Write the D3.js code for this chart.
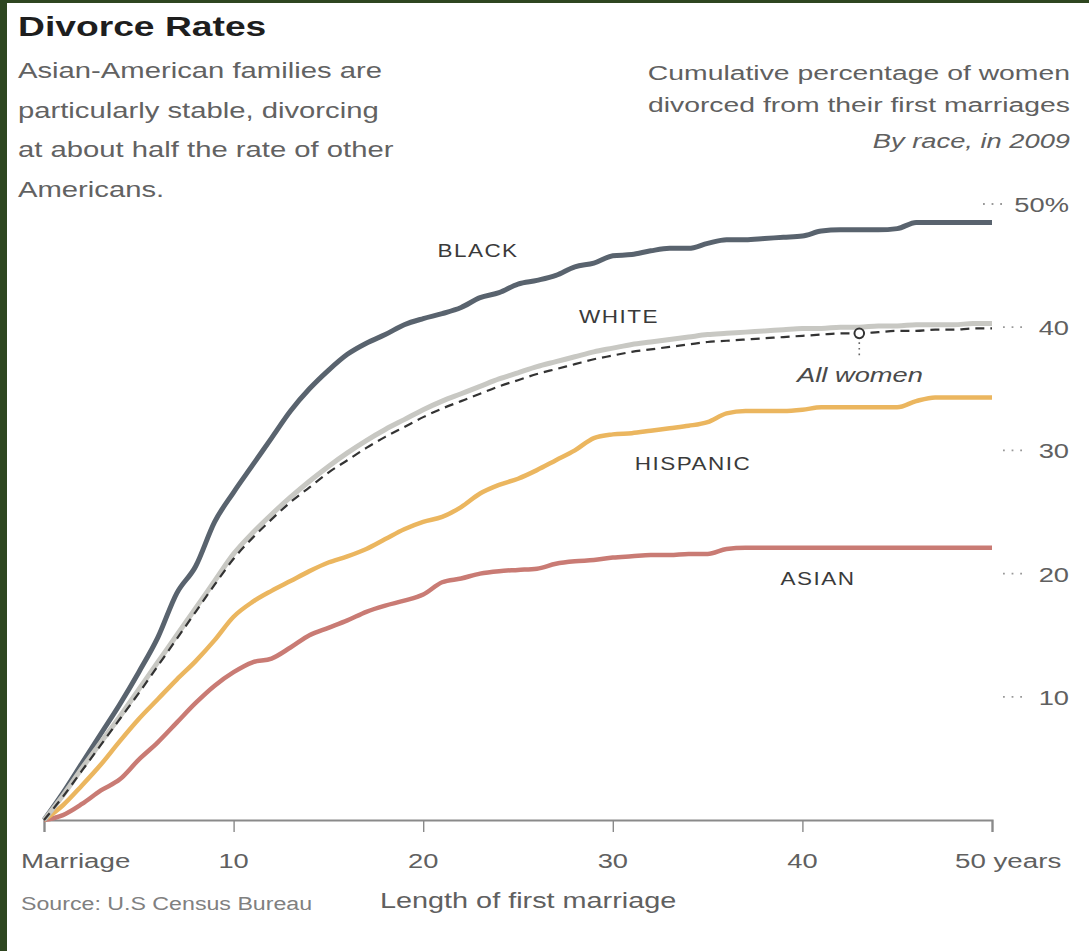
<!DOCTYPE html>
<html>
<head>
<meta charset="utf-8">
<script src="https://cdn.jsdelivr.net/npm/d3@7/dist/d3.min.js"></script>
<style>
  html, body { margin: 0; padding: 0; background: #2e4620; }
  svg { display: block; }
  text { font-family: "Liberation Sans", Arial, sans-serif; }
</style>
</head>
<body>
<svg id="chart" width="1089" height="951"></svg>
<script>
// Years since first marriage, 0..50
const years = d3.range(0, 51);

// Cumulative % of women divorced from their first marriage, by race (2009)
const black = [0, 2.2, 4.6, 7.0, 9.4, 12.0, 14.8, 18.4, 20.6, 24.2, 26.6, 28.8, 31.0, 33.2, 35.0, 36.5, 37.8, 38.7, 39.4, 40.2,
  40.7, 41.1, 41.6, 42.4, 42.8, 43.5, 43.8, 44.2, 44.9, 45.2, 45.8, 45.9, 46.2, 46.4, 46.4, 46.8, 47.1, 47.1, 47.2, 47.3,
  47.4, 47.8, 47.9, 47.9, 47.9, 48.0, 48.5, 48.5, 48.5, 48.5, 48.5];
const white = [0, 2.0, 4.2, 6.3, 8.4, 10.6, 12.8, 15.0, 17.2, 19.4, 21.6, 23.3, 24.8, 26.2, 27.5, 28.7, 29.8, 30.8, 31.7, 32.5,
  33.3, 34.0, 34.6, 35.2, 35.8, 36.3, 36.8, 37.2, 37.6, 38.0, 38.3, 38.6, 38.8, 39.0, 39.2, 39.4, 39.5, 39.6, 39.7, 39.8,
  39.9, 39.9, 40.0, 40.0, 40.1, 40.1, 40.2, 40.2, 40.2, 40.3, 40.3];
const allWomen = [0, 1.9, 4.0, 6.1, 8.2, 10.3, 12.5, 14.7, 16.9, 19.1, 21.2, 22.9, 24.4, 25.8, 27.0, 28.2, 29.2, 30.2, 31.1, 31.9,
  32.7, 33.4, 34.0, 34.6, 35.2, 35.7, 36.2, 36.6, 37.0, 37.4, 37.7, 38.0, 38.2, 38.4, 38.6, 38.8, 38.9, 39.0, 39.1, 39.2,
  39.3, 39.4, 39.5, 39.5, 39.6, 39.7, 39.7, 39.8, 39.8, 39.9, 39.9];
const hispanic = [0, 1.2, 2.8, 4.5, 6.4, 8.2, 9.8, 11.4, 12.9, 14.6, 16.5, 17.7, 18.6, 19.4, 20.2, 20.9, 21.4, 22.0, 22.8, 23.6,
  24.2, 24.6, 25.4, 26.5, 27.2, 27.7, 28.4, 29.2, 30.0, 31.0, 31.3, 31.4, 31.6, 31.8, 32.0, 32.3, 33.0, 33.2, 33.2, 33.2,
  33.3, 33.5, 33.5, 33.5, 33.5, 33.5, 34.0, 34.3, 34.3, 34.3, 34.3];
const asian = [0, 0.4, 1.3, 2.4, 3.3, 4.9, 6.3, 7.9, 9.5, 10.9, 12.0, 12.8, 13.1, 14.0, 15.0, 15.6, 16.2, 16.9, 17.4, 17.8,
  18.3, 19.3, 19.6, 20.0, 20.2, 20.3, 20.4, 20.8, 21.0, 21.1, 21.3, 21.4, 21.5, 21.5, 21.6, 21.6, 22.0, 22.1, 22.1, 22.1,
  22.1, 22.1, 22.1, 22.1, 22.1, 22.1, 22.1, 22.1, 22.1, 22.1, 22.1];

const xTicks = [0, 10, 20, 30, 40, 50];
const xTickLabels = ["Marriage", "10", "20", "30", "40", "50 years"];
const yTicks = [10, 20, 30, 40, 50];
const yTickLabels = ["10", "20", "30", "40", "50%"];

// The "All women" marker sits on this year of its curve
const markerYear = 43;

const svg = d3.select("#chart");

// white card inside the dark green frame
svg.append("rect").attr("x", 7).attr("y", 3).attr("width", 1082).attr("height", 948).attr("fill", "#ffffff");

const x = d3.scaleLinear().domain([0, 50]).range([44, 992]);
const y = d3.scaleLinear().domain([0, 50]).range([820, 204]);

// horizontally widened text helper
function label(str, px, py, o = {}) {
  const t = svg.append("text")
    .attr("transform", `translate(${px},${py}) scale(${o.sx ?? 1.3},1)`)
    .attr("text-anchor", o.anchor || "start")
    .attr("font-size", o.size || 21)
    .attr("fill", o.color || "#606060")
    .text(str);
  if (o.weight) t.attr("font-weight", o.weight);
  if (o.italic) t.attr("font-style", "italic");
  if (o.ls) t.attr("letter-spacing", o.ls);
  return t;
}

// Headline and notes
label("Divorce Rates", 18, 36, { size: 28, weight: "bold", color: "#1e1e1e", sx: 1.33 });
const notes = ["Asian-American families are", "particularly stable, divorcing",
  "at about half the rate of other", "Americans."];
notes.forEach((s, i) => label(s, 18, 78 + i * 39.5, { size: 21.5, color: "#626262", sx: 1.36 }));

label("Cumulative percentage of women", 1070, 80, { anchor: "end", size: 21, sx: 1.35 });
label("divorced from their first marriages", 1070, 112, { anchor: "end", size: 21, sx: 1.35 });
label("By race, in 2009", 1070, 148, { anchor: "end", size: 21, sx: 1.3, italic: true });

// Y axis: three-dot leaders and labels on the right
yTicks.forEach((v, i) => {
  const right = i === yTicks.length - 1 ? 1002 : 1022;
  svg.append("line")
    .attr("x1", right - 19).attr("x2", right)
    .attr("y1", y(v)).attr("y2", y(v))
    .attr("stroke", "#999").attr("stroke-width", 1.8)
    .attr("stroke-dasharray", "1.8,6.8");
  label(yTickLabels[i], 1069, y(v) + 8, { anchor: "end", size: 21, sx: 1.3 });
});

// X axis
const xAxis = svg.append("g").attr("transform", `translate(0,${y(0)})`)
  .call(d3.axisBottom(x).tickValues(xTicks).tickSize(12).tickFormat(""));
xAxis.select(".domain").attr("stroke", "#8a8a8a").attr("stroke-width", 2.2);
xAxis.selectAll(".tick line").attr("stroke", "#8a8a8a").attr("stroke-width", 1.4);

xTicks.forEach((v, i) => {
  if (i === 0) label(xTickLabels[i], 21, 868, { size: 21, sx: 1.32 });
  else if (i === xTicks.length - 1) label(xTickLabels[i], 955, 868, { size: 21, sx: 1.32 });
  else label(xTickLabels[i], x(v), 868, { anchor: "middle", size: 21, sx: 1.3 });
});

label("Source: U.S Census Bureau", 21, 910, { size: 19, color: "#808080", sx: 1.22 });
label("Length of first marriage", 380, 908, { size: 22, sx: 1.31 });

// Series lines
const line = d3.line()
  .x((d, i) => x(years[i]))
  .y(d => y(d))
  .curve(d3.curveMonotoneX);

const series = [
  { data: asian, color: "#c97b74", width: 4.5 },
  { data: hispanic, color: "#ebb65f", width: 4.5 },
  { data: black, color: "#59636e", width: 5 },
  { data: white, color: "#c8c8c3", width: 5 }
];
series.forEach(s => {
  svg.append("path").datum(s.data)
    .attr("d", line)
    .attr("fill", "none")
    .attr("stroke", s.color)
    .attr("stroke-width", s.width)
    .attr("stroke-linejoin", "round")
    .attr("stroke-linecap", "butt");
});

svg.append("path").datum(allWomen)
  .attr("d", line)
  .attr("fill", "none")
  .attr("stroke", "#333")
  .attr("stroke-width", 2.2)
  .attr("stroke-dasharray", "9,6");

// All women marker and leader
const mx = x(markerYear), my = y(allWomen[markerYear]);
svg.append("line")
  .attr("x1", mx).attr("x2", mx).attr("y1", my + 9).attr("y2", my + 24)
  .attr("stroke", "#666").attr("stroke-width", 1.6).attr("stroke-dasharray", "1.6,4");
svg.append("circle").attr("cx", mx).attr("cy", my).attr("r", 4.8)
  .attr("fill", "#fff").attr("stroke", "#333").attr("stroke-width", 2);

// Series names
label("BLACK", 478, 257, { anchor: "middle", size: 18, color: "#3a3a3a", sx: 1.25, ls: 1.2 });
label("WHITE", 619, 323, { anchor: "middle", size: 18, color: "#3a3a3a", sx: 1.25, ls: 1.2 });
label("All women", 860, 382, { anchor: "middle", size: 21, color: "#4a4a4a", sx: 1.3, italic: true });
label("HISPANIC", 693, 470, { anchor: "middle", size: 18, color: "#3a3a3a", sx: 1.25, ls: 1.2 });
label("ASIAN", 818, 585, { anchor: "middle", size: 18, color: "#3a3a3a", sx: 1.25, ls: 1.2 });
</script>
</body>
</html>
